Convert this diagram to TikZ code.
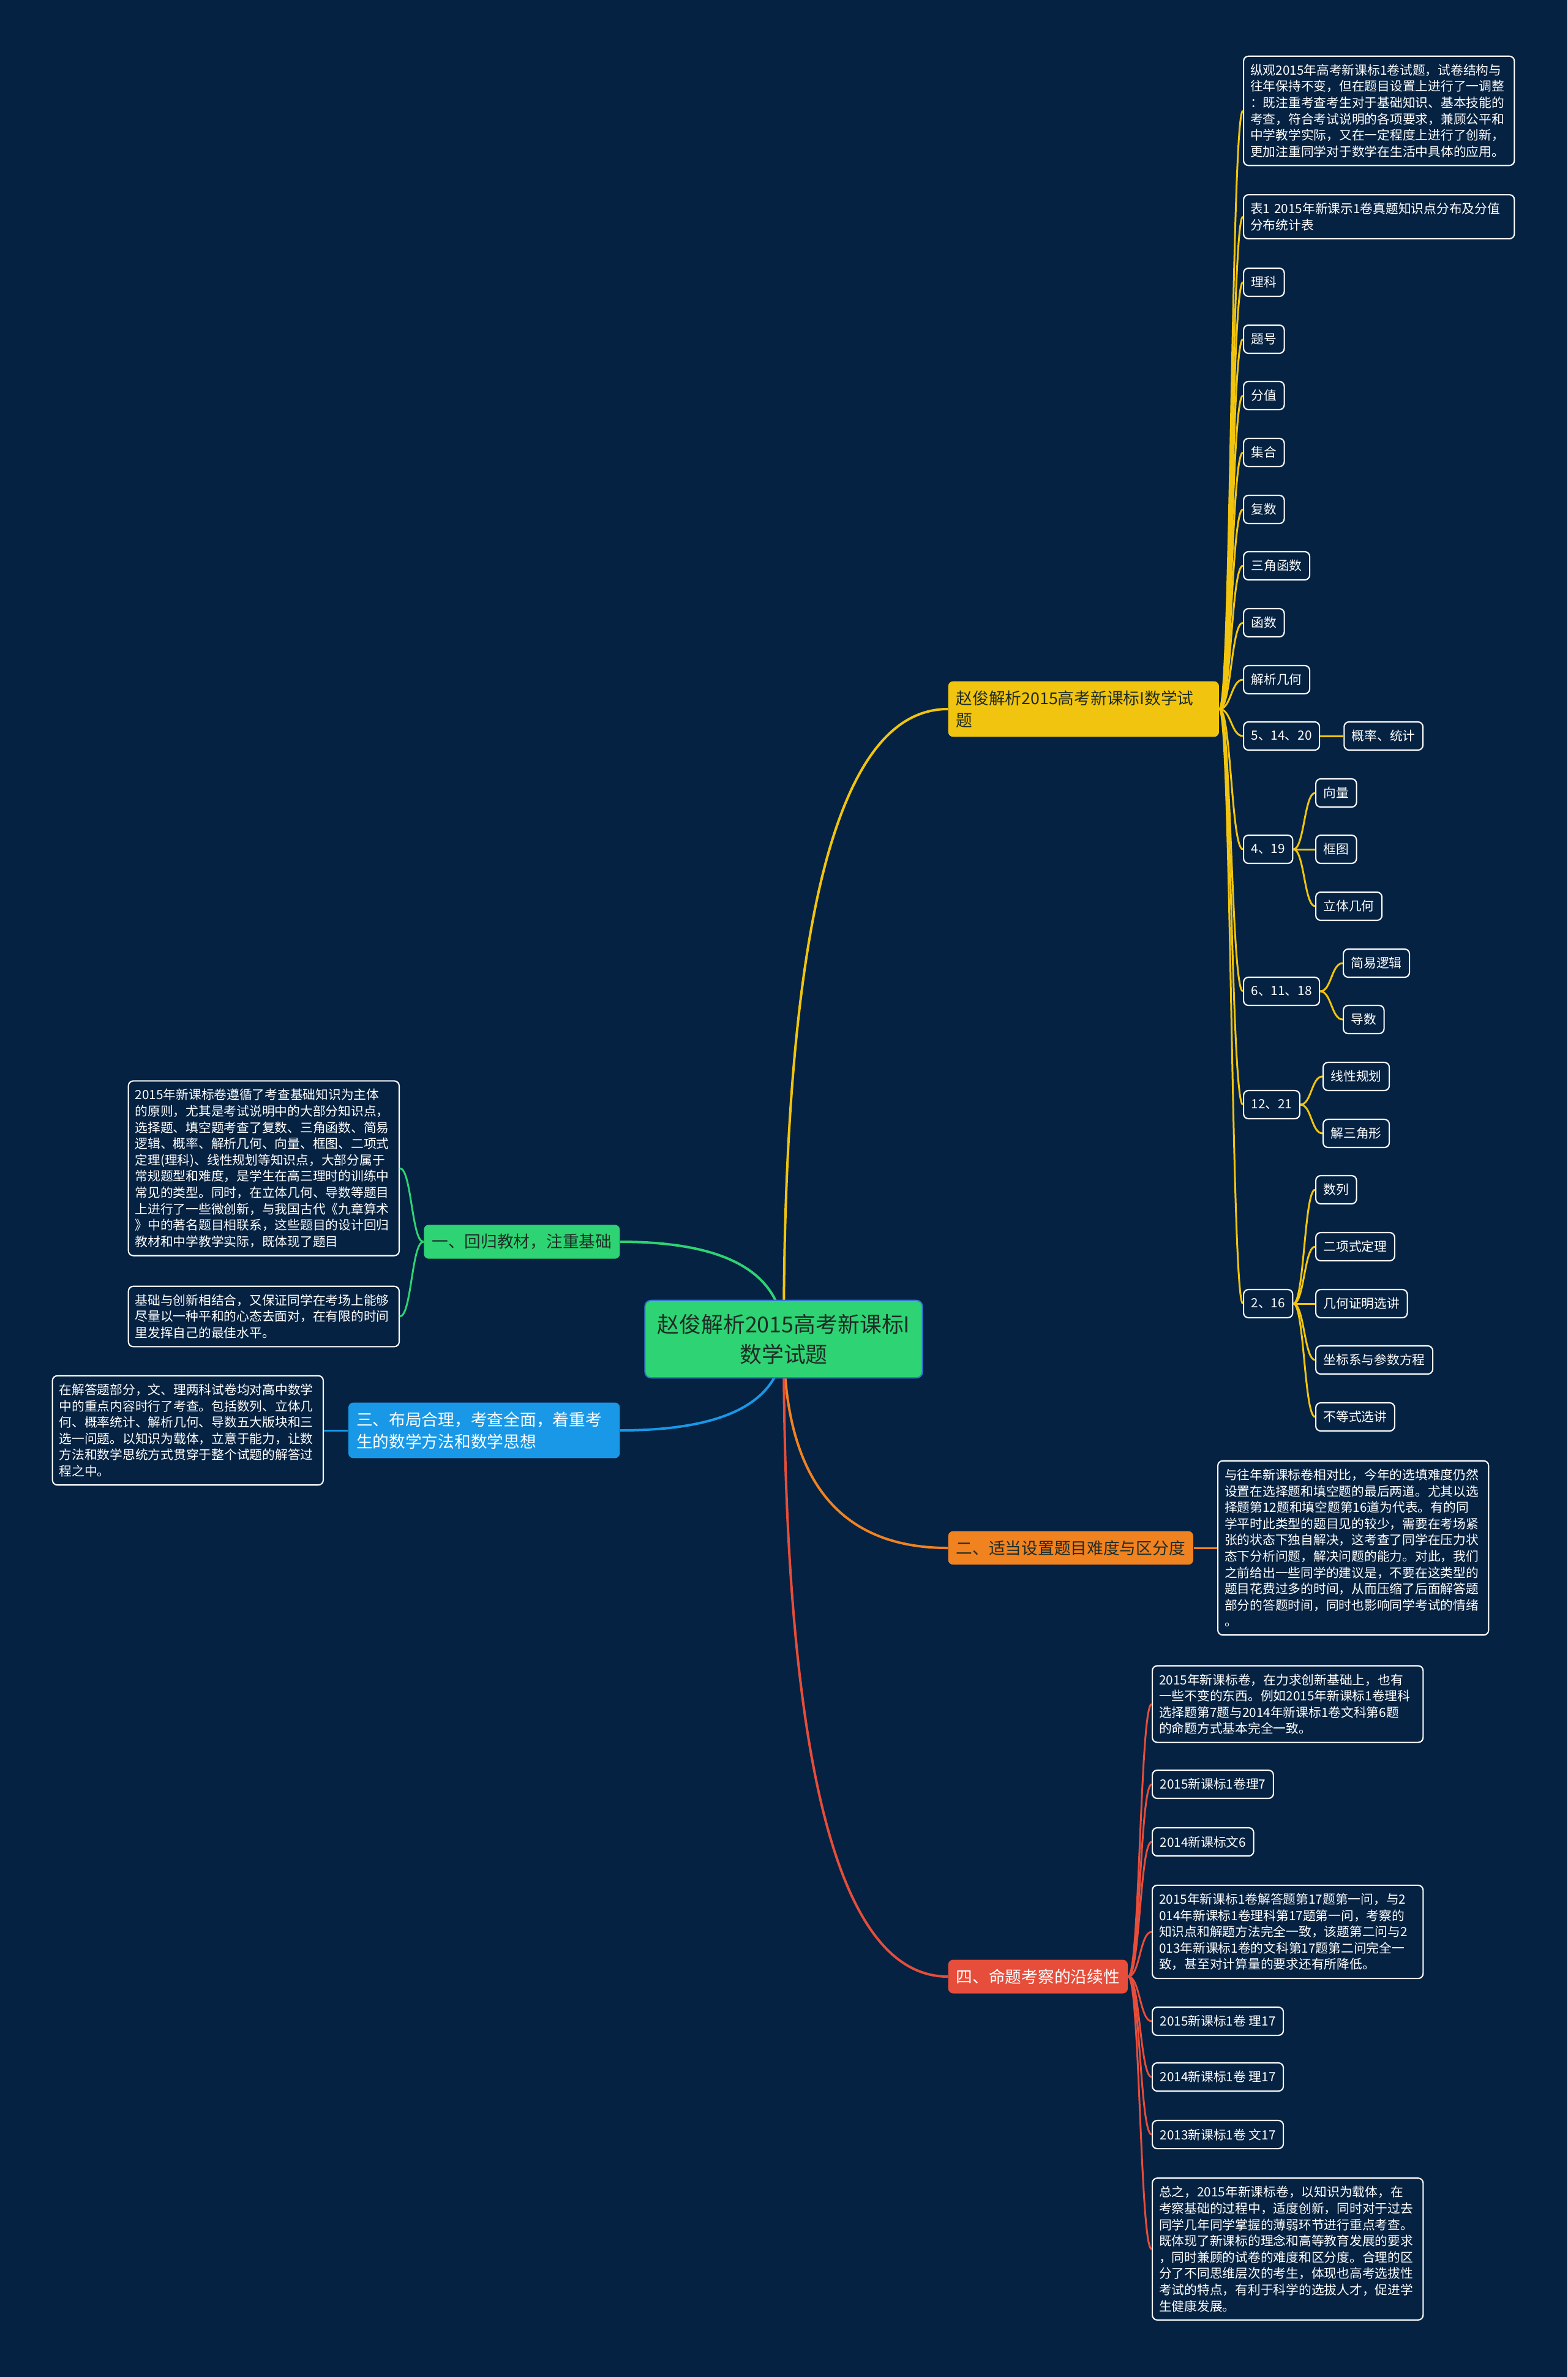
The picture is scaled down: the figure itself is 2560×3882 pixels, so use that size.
\documentclass[tikz,border=0pt]{standalone}
\usepackage{fontspec}
\usepackage{tikz}
\usetikzlibrary{positioning, calc, backgrounds}
\newfontfamily\cjk{Noto Sans CJK SC}
\definecolor{mapbg}{RGB}{5, 34, 66}
\definecolor{mapyellow}{RGB}{241, 196, 15}
\definecolor{mapgreen}{RGB}{46, 211, 115}
\definecolor{mapblue}{RGB}{24, 152, 230}
\definecolor{maporange}{RGB}{240, 130, 32}
\definecolor{mapred}{RGB}{230, 77, 58}
\definecolor{maptext}{RGB}{30, 44, 38}
\definecolor{rootedge}{RGB}{52, 120, 210}
\newcommand{\rootfont}{\cjk\fontsize{10.2pt}{14pt}\selectfont}
\newcommand{\branchfont}{\cjk\fontsize{7.6pt}{10.2pt}\selectfont}
\newcommand{\leaffont}{\cjk\fontsize{5.9pt}{7.57pt}\selectfont}

\begin{document}
\begin{tikzpicture}[
  x=0.01cm, y=-0.01cm,
  root/.style={rectangle, rounded corners=1mm, draw=rootedge, line width=0.6pt, fill=mapgreen, text=maptext, font=\rootfont, align=center, minimum width=4.53cm, inner ysep=0.22cm},
  branch/.style={rectangle, rounded corners=0.8mm, text=maptext, font=\branchfont, align=left, inner xsep=0.13cm, inner ysep=0.15cm},
  leaf/.style={rectangle, rounded corners=0.8mm, draw=white, line width=0.6pt, fill=mapbg, text=white, font=\leaffont, inner xsep=0.125cm, inner ysep=0.13cm, minimum height=0.46cm},
  para/.style={leaf, text width=4.2cm, align=left, inner xsep=0.11cm},
  rootlink/.style={line width=0.04cm, to path={.. controls ($(\tikztostart)!0.667!(\tikztostart|-\tikztotarget)$) and ($(\tikztotarget)!0.667!(\tikztostart|-\tikztotarget)$) .. (\tikztotarget)}},
  leaflink/.style={line width=0.03cm, to path={.. controls ($(\tikztostart)!0.5!(\tikztotarget|-\tikztostart)$) and ($(\tikztotarget)!0.5!(\tikztostart|-\tikztotarget)$) .. (\tikztotarget)}}
]
  \useasboundingbox (0,0) rectangle (2560,3882);
  \begin{scope}[on background layer]
    \fill[mapbg] (0,0) rectangle (2560,3882);
  \end{scope}

  % central topic
  \node[root] (root) at (1280,2187) {赵俊解析2015高考新课标I\\数学试题};

  % main branches
  \node[branch, fill=mapyellow, anchor=west, text width=4.16cm] (yb) at (1548,1158) {赵俊解析2015高考新课标I数学试\\题};
  \node[branch, fill=maporange, anchor=west] (ob) at (1548,2528) {二、适当设置题目难度与区分度};
  \node[branch, fill=mapred, anchor=west, text=white] (rb) at (1548,3228) {四、命题考察的沿续性};
  \node[branch, fill=mapgreen, anchor=east] (gb) at (1013,2028) {一、回归教材，注重基础};
  \node[branch, fill=mapblue, anchor=east, text=white, text width=4.17cm] (bb) at (1013,2336) {三、布局合理，考查全面，着重考\\生的数学方法和数学思想};

  % yellow branch leaves
  \node[para, anchor=west] (yp1) at (2030,181) {纵观2015年高考新课标1卷试题，试卷结构与\\往年保持不变，但在题目设置上进行了一调整\\：既注重考查考生对于基础知识、基本技能的\\考查，符合考试说明的各项要求，兼顾公平和\\中学教学实际，又在一定程度上进行了创新，\\更加注重同学对于数学在生活中具体的应用。};
  \node[para, anchor=west] (yp2) at (2030,354) {表1 2015年新课示1卷真题知识点分布及分值\\分布统计表};
  \node[leaf, anchor=west] (lk) at (2030,461) {理科};
  \node[leaf, anchor=west] (th) at (2030,554) {题号};
  \node[leaf, anchor=west] (fz) at (2030,646) {分值};
  \node[leaf, anchor=west] (jh) at (2030,739) {集合};
  \node[leaf, anchor=west] (fs) at (2030,832) {复数};
  \node[leaf, anchor=west] (sj) at (2030,924) {三角函数};
  \node[leaf, anchor=west] (hs) at (2030,1017) {函数};
  \node[leaf, anchor=west] (jx) at (2030,1110) {解析几何};
  \node[leaf, anchor=west] (n1) at (2030,1202) {5、14、20};
  \node[leaf, right=0.38cm of n1] (gl) {概率、统计};
  \node[leaf, anchor=west] (n2) at (2030,1387) {4、19};
  \node[leaf, anchor=west] (xl) at (2148,1295) {向量};
  \node[leaf, anchor=west] (kt) at (2148,1387) {框图};
  \node[leaf, anchor=west] (lt) at (2148,1480) {立体几何};
  \node[leaf, anchor=west] (n3) at (2030,1619) {6、11、18};
  \node[leaf, anchor=west] (jy) at (2193,1573) {简易逻辑};
  \node[leaf, anchor=west] (ds) at (2193,1665) {导数};
  \node[leaf, anchor=west] (n4) at (2030,1804) {12、21};
  \node[leaf, anchor=west] (xx) at (2160,1758) {线性规划};
  \node[leaf, anchor=west] (sjx) at (2160,1851) {解三角形};
  \node[leaf, anchor=west] (n5) at (2030,2129) {2、16};
  \node[leaf, anchor=west] (sl) at (2148,1943) {数列};
  \node[leaf, anchor=west] (ex) at (2148,2036) {二项式定理};
  \node[leaf, anchor=west] (jz) at (2148,2129) {几何证明选讲};
  \node[leaf, anchor=west] (zb) at (2148,2221) {坐标系与参数方程};
  \node[leaf, anchor=west] (bd) at (2148,2314) {不等式选讲};

  % green branch leaves
  \node[para, anchor=east] (gp1) at (653,1908) {2015年新课标卷遵循了考查基础知识为主体\\的原则，尤其是考试说明中的大部分知识点，\\选择题、填空题考查了复数、三角函数、简易\\逻辑、概率、解析几何、向量、框图、二项式\\定理(理科)、线性规划等知识点，大部分属于\\常规题型和难度，是学生在高三理时的训练中\\常见的类型。同时，在立体几何、导数等题目\\上进行了一些微创新，与我国古代《九章算术\\》中的著名题目相联系，这些题目的设计回归\\教材和中学教学实际，既体现了题目};
  \node[para, anchor=east] (gp2) at (653,2150) {基础与创新相结合，又保证同学在考场上能够\\尽量以一种平和的心态去面对，在有限的时间\\里发挥自己的最佳水平。};

  % blue branch leaf
  \node[para, anchor=east] (bp) at (529,2336) {在解答题部分，文、理两科试卷均对高中数学\\中的重点内容时行了考查。包括数列、立体几\\何、概率统计、解析几何、导数五大版块和三\\选一问题。以知识为载体，立意于能力，让数\\方法和数学思统方式贯穿于整个试题的解答过\\程之中。};

  % orange branch leaf
  \node[para, anchor=west] (op) at (1988,2528) {与往年新课标卷相对比，今年的选填难度仍然\\设置在选择题和填空题的最后两道。尤其以选\\择题第12题和填空题第16道为代表。有的同\\学平时此类型的题目见的较少，需要在考场紧\\张的状态下独自解决，这考查了同学在压力状\\态下分析问题，解决问题的能力。对此，我们\\之前给出一些同学的建议是，不要在这类型的\\题目花费过多的时间，从而压缩了后面解答题\\部分的答题时间，同时也影响同学考试的情绪\\。};

  % red branch leaves
  \node[para, anchor=west] (rp1) at (1881,2783) {2015年新课标卷，在力求创新基础上，也有\\一些不变的东西。例如2015年新课标1卷理科\\选择题第7题与2014年新课标1卷文科第6题\\的命题方式基本完全一致。};
  \node[leaf, anchor=west] (r2) at (1881,2914) {2015新课标1卷理7};
  \node[leaf, anchor=west] (r3) at (1881,3008) {2014新课标文6};
  \node[para, anchor=west] (rp2) at (1881,3155) {2015年新课标1卷解答题第17题第一问，与2\\014年新课标1卷理科第17题第一问，考察的\\知识点和解题方法完全一致，该题第二问与2\\013年新课标1卷的文科第17题第二问完全一\\致，甚至对计算量的要求还有所降低。};
  \node[leaf, anchor=west] (r5) at (1881,3301) {2015新课标1卷 理17};
  \node[leaf, anchor=west] (r6) at (1881,3392) {2014新课标1卷 理17};
  \node[leaf, anchor=west] (r7) at (1881,3486) {2013新课标1卷 文17};
  \node[para, anchor=west] (rp3) at (1881,3673) {总之，2015年新课标卷，以知识为载体，在\\考察基础的过程中，适度创新，同时对于过去\\同学几年同学掌握的薄弱环节进行重点考查。\\既体现了新课标的理念和高等教育发展的要求\\，同时兼顾的试卷的难度和区分度。合理的区\\分了不同思维层次的考生，体现也高考选拔性\\考试的特点，有利于科学的选拔人才，促进学\\生健康发展。};

  % root links
  \begin{scope}[on background layer]
    \draw[rootlink, mapyellow] (root.center) to (yb.west);
    \draw[rootlink, mapgreen] (root.center) to (gb.east);
    \draw[rootlink, mapblue] (root.center) to (bb.east);
    \draw[rootlink, maporange] (root.center) to (ob.west);
    \draw[rootlink, mapred] (root.center) to (rb.west);
  \end{scope}

  % yellow links
  \foreach \n in {yp1,yp2,lk,th,fz,jh,fs,sj,hs,jx,n1,n2,n3,n4,n5}
    \draw[leaflink, mapyellow] (yb.east) to (\n.west);
  \draw[leaflink, mapyellow] (n1.east) to (gl.west);
  \draw[leaflink, mapyellow] (n2.east) to (xl.west);
  \draw[leaflink, mapyellow] (n2.east) to (kt.west);
  \draw[leaflink, mapyellow] (n2.east) to (lt.west);
  \draw[leaflink, mapyellow] (n3.east) to (jy.west);
  \draw[leaflink, mapyellow] (n3.east) to (ds.west);
  \draw[leaflink, mapyellow] (n4.east) to (xx.west);
  \draw[leaflink, mapyellow] (n4.east) to (sjx.west);
  \draw[leaflink, mapyellow] (n5.east) to (sl.west);
  \draw[leaflink, mapyellow] (n5.east) to (ex.west);
  \draw[leaflink, mapyellow] (n5.east) to (jz.west);
  \draw[leaflink, mapyellow] (n5.east) to (zb.west);
  \draw[leaflink, mapyellow] (n5.east) to (bd.west);

  % other links
  \draw[leaflink, mapgreen] (gb.west) to (gp1.east);
  \draw[leaflink, mapgreen] (gb.west) to (gp2.east);
  \draw[leaflink, mapblue] (bb.west) to (bp.east);
  \draw[leaflink, maporange] (ob.east) to (op.west);
  \foreach \n in {rp1,r2,r3,rp2,r5,r6,r7,rp3}
    \draw[leaflink, mapred] (rb.east) to (\n.west);
\end{tikzpicture}
\end{document}
